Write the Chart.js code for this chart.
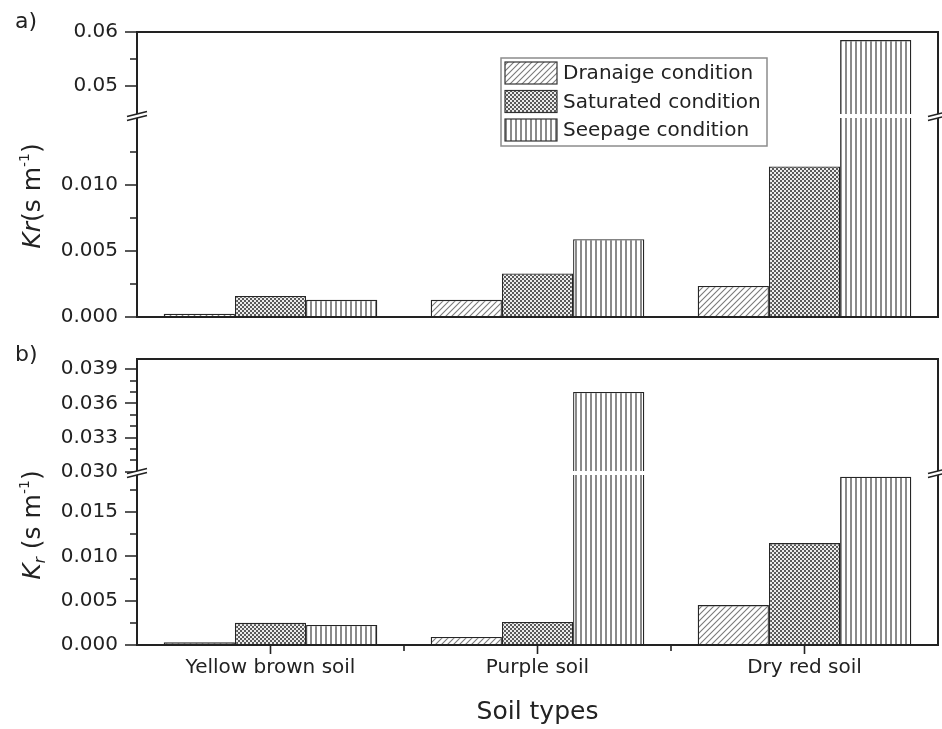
<!DOCTYPE html>
<html>
<head>
<meta charset="utf-8">
<script src="https://cdn.jsdelivr.net/npm/chart.js@4.4.0/dist/chart.umd.min.js"></script>
<style>
  body { margin: 0; background: #fff; }
  #wrap { position: relative; width: 942px; height: 729px; }
  canvas { position: absolute; left: 0; }
</style>
</head>
<body>
<div id="wrap">
  <canvas id="chartA" width="942" height="330" style="top:0px"></canvas>
  <canvas id="chartB" width="942" height="399" style="top:330px"></canvas>
</div>
<script>
'use strict';

const soilTypes = ['Yellow brown soil', 'Purple soil', 'Dry red soil'];
const conditions = ['Dranaige condition', 'Saturated condition', 'Seepage condition'];

// panel a) Kr
const drainageA = [0.00025, 0.0013, 0.00235];
const saturatedA = [0.0016, 0.0033, 0.0114];
const seepageA = [0.0013, 0.0059, 0.0585];

// panel b) Kr
const drainageB = [0.0003, 0.0009, 0.0045];
const saturatedB = [0.0025, 0.0026, 0.0115];
const seepageB = [0.00225, 0.0370, 0.0190];

const ticksALow = [0, 0.005, 0.010];
const ticksAHigh = [0.05, 0.06];
const ticksBLow = [0, 0.005, 0.010, 0.015];
const ticksBHigh = [0.030, 0.033, 0.036, 0.039];

const FONT = 'DejaVu Sans';
const INK = '#222';

// fill patterns for the three conditions
function makePattern(kind) {
  const c = document.createElement('canvas');
  const g = c.getContext('2d');
  if (kind === 0) {
    c.width = 6; c.height = 6;
    g.fillStyle = '#fff'; g.fillRect(0, 0, 6, 6);
    g.strokeStyle = '#7a7a7a'; g.lineWidth = 1.1;
    g.beginPath();
    g.moveTo(0, 6); g.lineTo(6, 0);
    g.moveTo(-3, 3); g.lineTo(3, -3);
    g.moveTo(3, 9); g.lineTo(9, 3);
    g.stroke();
  } else if (kind === 1) {
    c.width = 4; c.height = 4;
    g.fillStyle = '#ececec'; g.fillRect(0, 0, 4, 4);
    g.fillStyle = '#5a5a5a';
    g.fillRect(0, 0, 2, 2); g.fillRect(2, 2, 2, 2);
  } else {
    c.width = 5; c.height = 4;
    g.fillStyle = '#fff'; g.fillRect(0, 0, 5, 4);
    g.fillStyle = '#8a8a8a'; g.fillRect(0, 0, 2, 4);
  }
  return g.createPattern(c, 'repeat');
}
const patterns = [makePattern(0), makePattern(1), makePattern(2)];

function breakMark(ctx, x, y) {
  ctx.save();
  ctx.fillStyle = '#fff';
  ctx.beginPath();
  ctx.moveTo(x - 10, y + 0.5); ctx.lineTo(x + 10, y - 4.5);
  ctx.lineTo(x + 10, y - 0.5); ctx.lineTo(x - 10, y + 4.5);
  ctx.closePath(); ctx.fill();
  ctx.strokeStyle = INK; ctx.lineWidth = 1.6;
  ctx.beginPath();
  ctx.moveTo(x - 10, y + 0.5); ctx.lineTo(x + 10, y - 4.5);
  ctx.moveTo(x - 10, y + 4.5); ctx.lineTo(x + 10, y - 0.5);
  ctx.stroke();
  ctx.restore();
}

function yTicks(ctx, scale, majors, minorStep, x) {
  ctx.strokeStyle = INK; ctx.lineWidth = 1.6;
  ctx.beginPath();
  majors.forEach(v => {
    const y = Math.round(scale.getPixelForValue(v));
    ctx.moveTo(x - 12, y); ctx.lineTo(x, y);
  });
  const k0 = Math.ceil(scale.min / minorStep - 1e-6), k1 = Math.floor(scale.max / minorStep + 1e-6);
  for (let k = k0; k <= k1; k++) {
    const v = k * minorStep;
    if (majors.some(m => Math.abs(m - v) < minorStep / 10)) continue;
    const y = Math.round(scale.getPixelForValue(v));
    if (y < scale.top + 4 || y > scale.bottom - 4) continue;
    ctx.moveTo(x - 7, y); ctx.lineTo(x, y);
  }
  ctx.stroke();
}

function yTitle(ctx, cx, cy, parts) {
  ctx.save();
  ctx.translate(cx, cy);
  ctx.rotate(-Math.PI / 2);
  ctx.fillStyle = INK;
  ctx.textBaseline = 'alphabetic';
  const fontOf = p => (p.italic ? 'italic ' : '') + p.size + 'px ' + FONT;
  let w = 0;
  parts.forEach(p => { ctx.font = fontOf(p); w += ctx.measureText(p.t).width; });
  let x = -w / 2;
  parts.forEach(p => {
    ctx.font = fontOf(p);
    ctx.fillText(p.t, x, 9 + (p.dy || 0));
    x += ctx.measureText(p.t).width;
  });
  ctx.restore();
}

const decor = {
  id: 'decor',
  afterDatasetsDraw(chart, args, o) {
    const { ctx, chartArea: a } = chart;
    const low = chart.scales.yLow, high = chart.scales.yHigh;
    const yb = low.top;
    ctx.save();
    // gap of the broken axis
    ctx.fillStyle = '#fff';
    ctx.fillRect(a.left, yb - 2, a.right - a.left, 4);
    // frame
    ctx.strokeStyle = INK; ctx.lineWidth = 2;
    ctx.strokeRect(a.left, a.top, a.right - a.left, a.bottom - a.top);
    yTicks(ctx, low, o.lowTicks, o.lowMinor, a.left);
    yTicks(ctx, high, o.highTicks, o.highMinor, a.left);
    breakMark(ctx, a.left, yb);
    breakMark(ctx, a.right, yb);
    // category ticks
    if (o.xTicks) {
      const xs = chart.scales.x;
      ctx.beginPath();
      for (let i = 0; i < soilTypes.length; i++) {
        const c = xs.getPixelForTick(i);
        ctx.moveTo(c, a.bottom); ctx.lineTo(c, a.bottom + 9);
        if (i > 0) {
          const b = (c + xs.getPixelForTick(i - 1)) / 2;
          ctx.moveTo(b, a.bottom); ctx.lineTo(b, a.bottom + 6);
        }
      }
      ctx.stroke();
    }
    // legend
    if (o.legend) {
      const L = o.legend;
      ctx.fillStyle = '#fff';
      ctx.fillRect(L.x, L.y, L.w, L.h);
      ctx.strokeStyle = '#8c8c8c'; ctx.lineWidth = 1.5;
      ctx.strokeRect(L.x, L.y, L.w, L.h);
      ctx.font = '20px ' + FONT;
      ctx.textBaseline = 'middle';
      conditions.forEach((name, i) => {
        const top = L.y + 4 + i * 28.5;
        ctx.fillStyle = patterns[i];
        ctx.fillRect(L.x + 4, top, 52, 22);
        ctx.strokeStyle = '#333'; ctx.lineWidth = 1.2;
        ctx.strokeRect(L.x + 4, top, 52, 22);
        ctx.fillStyle = INK;
        ctx.fillText(name, L.x + 62, top + 12);
      });
    }
    // axis title and panel letter
    yTitle(ctx, 31, o.titleY, o.title);
    ctx.fillStyle = INK;
    ctx.font = '22px ' + FONT;
    ctx.textBaseline = 'middle';
    ctx.fillText(o.letter, 15, o.letterY);
    ctx.restore();
  }
};

function panel(id, series, cfg) {
  const datasets = [];
  series.forEach((vals, i) => {
    const common = {
      label: conditions[i],
      stack: 's' + i,
      backgroundColor: patterns[i],
      borderColor: '#262626',
      borderWidth: 1.3,
      categoryPercentage: 0.8,
      barPercentage: 1.0
    };
    datasets.push(Object.assign({}, common, {
      data: vals.map(v => Math.min(v, cfg.lowMax)),
      yAxisID: 'yLow'
    }));
    datasets.push(Object.assign({}, common, {
      data: vals.map(v => (v > cfg.highMin ? v : null)),
      yAxisID: 'yHigh'
    }));
  });

  const tickFont = { family: FONT, size: 20 };
  // tick marks are drawn by the plugin; the invisible tick length only spaces the labels
  const yCommon = {
    position: 'left',
    stack: 'y',
    stacked: false,
    grid: { display: false, drawTicks: true, tickLength: 19 },
    border: { display: false },
    afterFit: s => { s.width = 137; }
  };

  return new Chart(document.getElementById(id), {
    type: 'bar',
    data: { labels: soilTypes, datasets: datasets },
    options: {
      responsive: false,
      animation: false,
      layout: { padding: { left: 0, right: 4, top: cfg.top, bottom: 0 } },
      plugins: {
        legend: { display: false },
        tooltip: { enabled: false },
        decor: cfg.decor
      },
      scales: {
        x: {
          stacked: true,
          offset: true,
          grid: { display: false, drawTicks: false },
          border: { display: false },
          ticks: { display: cfg.showX, font: tickFont, color: INK, padding: 11, maxRotation: 0 },
          title: {
            display: cfg.showX, text: 'Soil types', color: INK,
            font: { family: FONT, size: 25 }, padding: { top: 0, bottom: 2 }
          },
          afterFit: s => { s.height = cfg.xHeight; }
        },
        yLow: Object.assign({}, yCommon, {
          min: 0, max: cfg.lowMax, stackWeight: cfg.lowWeight,
          afterBuildTicks: s => { s.ticks = cfg.decor.lowTicks.map(v => ({ value: v })); },
          ticks: { font: tickFont, color: INK, padding: 0, autoSkip: false, callback: v => v.toFixed(3) }
        }),
        yHigh: Object.assign({}, yCommon, {
          min: cfg.highMin, max: cfg.highMax, stackWeight: cfg.highWeight,
          afterBuildTicks: s => { s.ticks = cfg.decor.highTicks.map(v => ({ value: v })); },
          ticks: { font: tickFont, color: INK, padding: 0, autoSkip: false, callback: v => v.toFixed(cfg.highDec) }
        })
      }
    },
    plugins: [decor]
  });
}

panel('chartA', [drainageA, saturatedA, seepageA], {
  lowMax: 0.01523, highMin: 0.04444, highMax: 0.06, highDec: 2,
  lowWeight: 201, highWeight: 84,
  showX: false, xHeight: 13, top: 32,
  decor: {
    lowTicks: ticksALow, highTicks: ticksAHigh, lowMinor: 0.0025, highMinor: 0.005,
    legend: { x: 501, y: 58, w: 266, h: 88 },
    title: [
      { t: 'Kr', italic: true, size: 25 },
      { t: '(s m', size: 25 },
      { t: '-1', size: 14, dy: -11 },
      { t: ')', size: 25 }
    ],
    titleY: 196, letter: 'a)', letterY: 22
  }
});

panel('chartB', [drainageB, saturatedB, seepageB], {
  lowMax: 0.01941, highMin: 0.0299, highMax: 0.0399, highDec: 3,
  lowWeight: 172, highWeight: 114,
  showX: true, xHeight: 84, top: 29,
  decor: {
    lowTicks: ticksBLow, highTicks: ticksBHigh, lowMinor: 0.0025, highMinor: 0.001,
    xTicks: true,
    title: [
      { t: 'K', italic: true, size: 25 },
      { t: 'r', italic: true, size: 15, dy: 5 },
      { t: ' (s m', size: 25 },
      { t: '-1', size: 14, dy: -11 },
      { t: ')', size: 25 }
    ],
    titleY: 195, letter: 'b)', letterY: 25
  }
});
</script>
</body>
</html>
